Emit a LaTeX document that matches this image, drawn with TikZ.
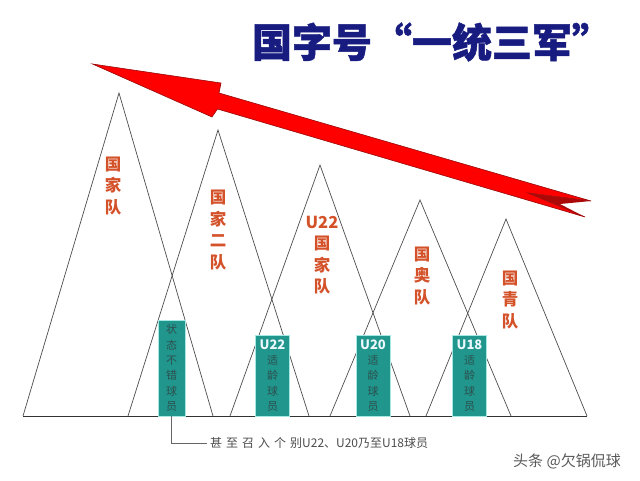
\documentclass[tikz,border=0pt]{standalone}
\usepackage{fontspec}
\usepackage{tikz}
\usetikzlibrary{calc}
\newfontfamily\cjk{Noto Sans CJK SC}
\newfontfamily\titlefont[BoldFeatures={FakeBold=1.2}]{Noto Sans CJK SC}
\definecolor{titleblue}{RGB}{24,28,128}
\definecolor{labelorange}{RGB}{212,82,42}
\definecolor{boxteal}{RGB}{32,150,140}
\definecolor{boxglow}{RGB}{165,232,228}
\definecolor{boxtext}{RGB}{45,80,80}
\definecolor{arrowdark}{RGB}{150,10,10}
\newcommand{\agetag}[1]{{\bfseries\fontsize{13}{15.4}\selectfont\color{white!92!cyan}#1}}

\tikzset{
	peak/.style={draw=black!70, line width=0.7pt},
	groundline/.style={draw=black!80, line width=0.9pt},
	teamlabel/.style={text=labelorange, font=\cjk\bfseries\fontsize{16.5}{21.5}\selectfont, align=center, inner sep=0pt},
	agebox/.style={fill=boxteal, draw=boxglow, line width=0.8pt, text=boxtext, font=\cjk\fontsize{11}{15.4}\selectfont, align=center, inner sep=0pt, minimum width=34, minimum height=81},
	noteline/.style={draw=black!60, line width=0.7pt},
	notetext/.style={text=black!70, font=\cjk\fontsize{12}{12}\selectfont, inner sep=3pt}
}

\begin{document}
\begin{tikzpicture}[x=1pt, y=-1pt]
	\useasboundingbox (0,0) rectangle (640,480);

	% title
	\node[text=titleblue, font=\titlefont\bfseries\fontsize{40}{40}\selectfont] (title) at (432,42) {国字号“一统三军”};

	% big arrow
	\fill[red, draw=arrowdark, line width=0.6pt] (92.5,64) -- (221,83) -- (219,93) -- (591,201) -- (528,193) -- (585,217) -- (217.5,109) -- (212,117) -- cycle;
	\fill[arrowdark!80!red] (591,201) -- (528,193) -- (585,217) -- (560,204) -- cycle;

	% peaks
	\draw[peak] (23,416) -- (119,93) -- (213,416);
	\draw[peak] (128,416) -- (218,130) -- (309,416);
	\draw[peak] (230,416) -- (320,165) -- (410,416);
	\draw[peak] (330,416) -- (420,200) -- (511,416);
	\draw[peak] (426,416) -- (506,219) -- (587,416);
	\draw[groundline] (23,416) -- (587,416);

	% team names
	\node[teamlabel] (lbl1) at (113,186) {国\\家\\队};
	\node[teamlabel] (lbl2) at (218,230) {国\\家\\二\\队};
	\node[teamlabel] (lbl3) at (322,255) {U22\\国\\家\\队};
	\node[teamlabel] (lbl4) at (422,276) {国\\奥\\队};
	\node[teamlabel] (lbl5) at (510,300) {国\\青\\队};

	% age groups
	\node[agebox, minimum width=27, minimum height=96] (b1) at (171.5,368) {状\\态\\不\\错\\球\\员};
	\node[agebox] (b2) at (272.5,375.5) {\agetag{U22}\\适\\龄\\球\\员};
	\node[agebox] (b3) at (373,375.5) {\agetag{U20}\\适\\龄\\球\\员};
	\node[agebox] (b4) at (469.5,375.5) {\agetag{U18}\\适\\龄\\球\\员};

	% note
	\node[notetext, anchor=west] (note) at (207,443) {甚\kern4pt 至\kern4pt 召\kern4pt 入\kern4pt 个\kern4pt 别U22、U20乃至U18球员};
	\draw[noteline] (b1.south) |- (note.west);

	\node[text=black!65, font=\cjk\fontsize{15}{15}\selectfont] (mark) at (567,461) {头条 @欠锅侃球};
\end{tikzpicture}
\end{document}
